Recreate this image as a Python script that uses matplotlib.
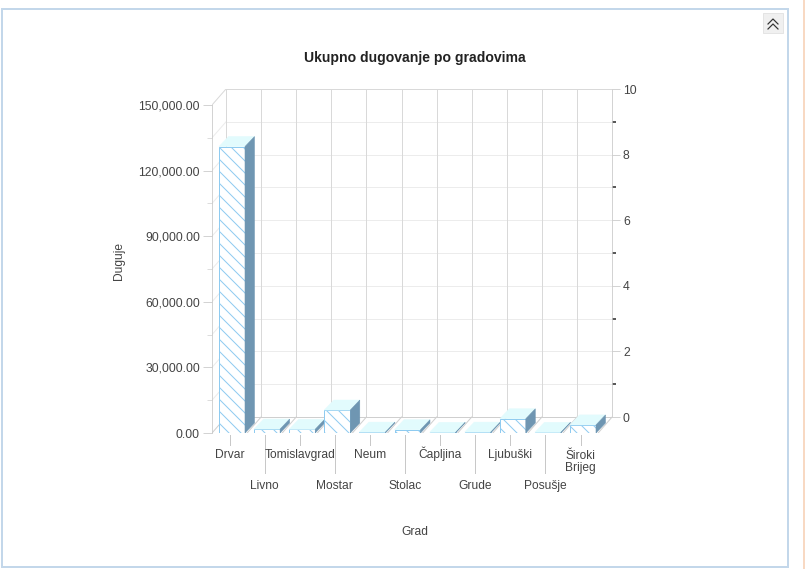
import matplotlib
matplotlib.use('Agg')
import matplotlib.pyplot as plt
from matplotlib.patches import Polygon, Rectangle
from matplotlib.lines import Line2D
from matplotlib.ticker import FixedLocator, FuncFormatter

# ---- data ----
cities = ['Drvar', 'Livno', 'Tomislavgrad', 'Mostar', 'Neum', 'Stolac',
          'Čapljina', 'Grude', 'Ljubuški', 'Posušje', 'Široki\nBrijeg']
debt = [131000, 1800, 1700, 10500, 400, 1500, 300, 400, 6500, 300, 3700]
left_ticks = [0, 30000, 60000, 90000, 120000, 150000]
right_ticks = [0, 2, 4, 6, 8, 10]

title = 'Ukupno dugovanje po gradovima'
ylabel = 'Duguje'
xlabel = 'Grad'

plt.rcParams['font.family'] = ['Liberation Sans', 'DejaVu Sans']
plt.rcParams['hatch.linewidth'] = 1.0

W, H, DPI = 805, 569, 72          # dpi 72 -> 1 pt == 1 px
fig = plt.figure(figsize=(W / DPI, H / DPI), dpi=DPI)

# plot box in pixels: front plane 212..598, wall depth 14px right / 16px up
CAT_PX = 35.1
PX_LEFT, PX_RIGHT, PX_FLOOR, PX_TOP = 212, 612, 433, 89
YMAX_VAL = 150000
PX_PER_VAL = 328 / YMAX_VAL
ax = fig.add_axes([PX_LEFT / W, 1 - PX_FLOOR / H,
                   (PX_RIGHT - PX_LEFT) / W, (PX_FLOOR - PX_TOP) / H])
x0 = -0.5
x1 = x0 + (PX_RIGHT - PX_LEFT) / CAT_PX
ytop = (PX_FLOOR - PX_TOP) / PX_PER_VAL
ax.set_xlim(x0, x1)
ax.set_ylim(0, ytop)
ax.patch.set_alpha(0)

DX = 14 / CAT_PX                # wall depth in category units
DY = 16 / PX_PER_VAL            # wall depth in value units
px = 1 / PX_PER_VAL             # one vertical pixel in value units
n = len(cities)
xr = x0 + n                     # front right of floor

grid_c, wall_c, floor_c = '#ececec', '#d9d9d9', '#cfcfcf'

# back wall: horizontal grid lines every 15k + side diagonals
for v in range(15000, YMAX_VAL + 1, 15000):
    c = wall_c if v == YMAX_VAL else grid_c
    ax.plot([x0 + DX, x1], [v + DY, v + DY], color=c, lw=1, zorder=1)
    ax.plot([x0, x0 + DX], [v, v + DY], color=c, lw=1, zorder=1)
# back wall: vertical lines at category boundaries
for k in range(n + 1):
    ax.plot([x0 + k + DX] * 2, [DY, YMAX_VAL + DY], color=wall_c, lw=1, zorder=1)
# floor
ax.plot([x0, xr], [0, 0], color=floor_c, lw=1, zorder=1)
ax.plot([x0 + DX, x1], [DY, DY], color=floor_c, lw=1, zorder=1)
for k in range(n + 1):
    ax.plot([x0 + k, x0 + k + DX], [0, DY], color=floor_c, lw=1, zorder=1)

# bars: hatched front face + top + side faces
BW, BOFF = 0.74, 0.07
BDX, BDY = 9.5 / CAT_PX, 10 / PX_PER_VAL
edge_c, top_c, side_c = '#8fcbf0', '#e2fbfd', '#6f96b2'
for i, v in enumerate(debt):
    xl = i + BOFF - BW / 2
    xrr = xl + BW
    ax.bar(i + BOFF, v, width=BW, facecolor='white', edgecolor=edge_c,
           hatch='\\\\', lw=1, zorder=3 + i)
    ax.add_patch(Polygon([(xl, v), (xrr, v), (xrr + BDX, v + BDY), (xl + BDX, v + BDY)],
                         closed=True, facecolor=top_c, edgecolor=top_c, lw=0.5,
                         zorder=3 + i))
    ax.add_patch(Polygon([(xrr, 0), (xrr + BDX, BDY), (xrr + BDX, v + BDY), (xrr, v)],
                         closed=True, facecolor=side_c, edgecolor=side_c, lw=0.5,
                         zorder=3 + i))

# category ticks and staggered labels under the floor
LINE_PX = 13
for i, name in enumerate(cities):
    low = 12 if i % 2 == 0 else 40
    ax.plot([i, i], [-2 * px, -low * px], color='#c8c8c8', lw=1, clip_on=False)
    base = 25 if i % 2 == 0 else 56
    base += LINE_PX * name.count('\n')      # baseline is the last line's
    ax.text(i, -base * px, name, ha='center', va='baseline', fontsize=12,
            color='#444444', linespacing=1.0, clip_on=False)

# left value axis (front plane)
for s in ['top', 'right', 'bottom']:
    ax.spines[s].set_visible(False)
ax.spines['left'].set_color('#c8c8c8')
ax.spines['left'].set_bounds(0, YMAX_VAL)
ax.set_xticks([])
ax.yaxis.set_major_locator(FixedLocator(left_ticks))
ax.yaxis.set_minor_locator(FixedLocator(range(15000, YMAX_VAL, 30000)))
ax.yaxis.set_major_formatter(FuncFormatter(lambda v, _: f'{v:,.2f}'))
ax.tick_params(axis='y', which='major', length=9, color='#c8c8c8',
               labelsize=12.3, labelcolor='#444444', pad=3)
ax.tick_params(axis='y', which='minor', length=5, color='#c8c8c8')
ax.set_ylabel(ylabel, fontsize=12, color='#444444', labelpad=13)

# right axis (back plane)
ax2 = ax.twinx()
ax2.set_ylim(-DY / 15000, (ytop - DY) / 15000)
for s in ['top', 'left', 'bottom']:
    ax2.spines[s].set_visible(False)
ax2.spines['right'].set_color('#c8c8c8')
ax2.spines['right'].set_bounds(0, 10)
ax2.yaxis.set_major_locator(FixedLocator(right_ticks))
ax2.yaxis.set_minor_locator(FixedLocator([1, 3, 5, 7, 9]))
ax2.tick_params(axis='y', which='major', length=8, color='#c8c8c8',
                labelsize=12.3, labelcolor='#444444', pad=3)
ax2.tick_params(axis='y', which='minor', length=3.5, width=1.5, color='#222222')

fig.text(415 / W, 1 - 58 / H, title, ha='center', va='center',
         fontsize=14, fontweight='bold', color='#222222')
fig.text(415 / W, 1 - 532 / H, xlabel, ha='center', va='center',
         fontsize=12, color='#444444')

# panel frame, side strip and collapse button
fig.add_artist(Rectangle((1.5 / W, 1 - 566.5 / H), 786.5 / W, 558 / H,
                         transform=fig.transFigure, fill=False,
                         edgecolor='#c3d7ea', lw=2))
fig.add_artist(Line2D([803.5 / W] * 2, [0, 1], transform=fig.transFigure,
                      color='#f7cdb0', lw=1.5))
fig.add_artist(Rectangle((763 / W, 1 - 33 / H), 20 / W, 20 / H,
                         transform=fig.transFigure, facecolor='#f0f0f0',
                         edgecolor='#e4e4e4', lw=1))
for yy in (24, 29):
    fig.add_artist(Line2D([768 / W, 773 / W, 778 / W],
                          [1 - yy / H, 1 - (yy - 5) / H, 1 - yy / H],
                          transform=fig.transFigure, color='#333333', lw=1.2))

fig.savefig('out.png', dpi=DPI)
